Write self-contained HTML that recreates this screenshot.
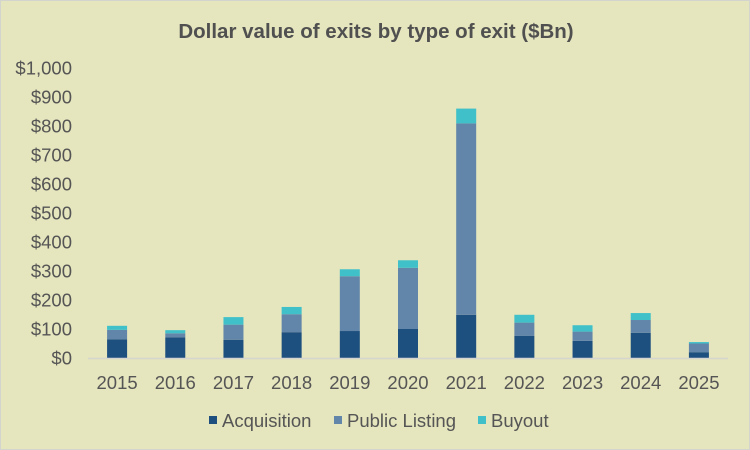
<!DOCTYPE html>
<html><head><meta charset="utf-8"><style>
body{margin:0;background:#fff}
#c{position:relative;width:750px;height:450px;background:#e5e5be;box-sizing:border-box;border:1px solid #d4d4cf;font-family:"Liberation Sans",sans-serif}
svg text{font-family:"Liberation Sans",sans-serif}
</style></head><body>
<div id="c">
<svg id="s" width="750" height="450" style="position:absolute;left:-1px;top:-1px">
<text x="376" y="38" text-anchor="middle" font-size="20.5" font-weight="bold" fill="#505050">Dollar value of exits by type of exit ($Bn)</text>
</svg>
</div>
<script>
const years=["2015","2016","2017","2018","2019","2020","2021","2022","2023","2024","2025"];
const acquisition=[64,71,63,89,93,100,149,76,59,87,20];
const publicListing=[33,14,52,62,189,211,660,46,32,44,30];
const buyout=[14,11,26,25,24,26,51,27,22,24,5];
const yTicks=[0,100,200,300,400,500,600,700,800,900,1000];
const yLabels=["$0","$100","$200","$300","$400","$500","$600","$700","$800","$900","$1,000"];
const legendLabels=["Acquisition","Public Listing","Buyout"];
const colors=["#1d4f7f","#6286a9","#40c1c9"];
const s=document.getElementById('s');const NS="http://www.w3.org/2000/svg";
function mk(t,a,p){const e=document.createElementNS(NS,t);for(const k in a)e.setAttribute(k,a[k]);(p||s).appendChild(e);return e;}
const y0=358,y1=68,x0=88,x1=728;
const ys=v=>y0-(v/1000)*(y0-y1);
const step=(x1-x0)/years.length;
const xs=i=>x0+step*(i+0.5);
yTicks.forEach((v,i)=>{const t=mk('text',{x:72,y:ys(v)+6.5,'text-anchor':'end','font-size':18.5,fill:'#555'});t.textContent=yLabels[i];

});
const series=[acquisition,publicListing,buyout];
years.forEach((yr,i)=>{let base=0;series.forEach((arr,k)=>{const top=base+arr[i];
const r=mk('rect',{x:xs(i)-10,y:ys(top),width:20,height:ys(base)-ys(top),fill:colors[k]});


base=top;});
const t=mk('text',{x:xs(i),y:389,'text-anchor':'middle','font-size':18.5,fill:'#555'});t.textContent=yr;

});
const ax=mk('line',{x1:x0,x2:x1,y1:y0+0.5,y2:y0+0.5,stroke:'#d6d6d0','stroke-width':1.5});


const lx=[209,334,478];
legendLabels.forEach((l,k)=>{const g=mk('g',{});


mk('rect',{x:lx[k],y:416,width:8,height:8,fill:colors[k]},g);
const t=mk('text',{x:lx[k]+13,y:427,'font-size':18.5,fill:'#555'},g);t.textContent=l;});
</script>
</body></html>
